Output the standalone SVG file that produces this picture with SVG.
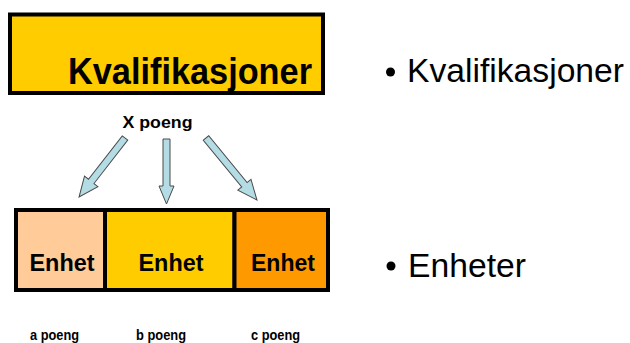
<svg xmlns="http://www.w3.org/2000/svg" width="630" height="343" viewBox="0 0 630 343">
  <style>
    .box { stroke: #000; stroke-width: 4; }
    .bold { font-family: "Liberation Sans", Arial, sans-serif; font-weight: bold; fill: #000; }
    .reg { font-family: "Liberation Sans", Arial, sans-serif; fill: #000; }
    .arrow { fill: #B4DCE4; stroke: #4a4a4a; stroke-width: 1; stroke-linejoin: miter; }
  </style>
  <rect width="630" height="343" fill="#fff"/>

  <g id="kvalifikasjoner">
    <rect class="box" x="10" y="14.5" width="313" height="78.5" fill="#FFCC00"/>
    <text class="bold" x="312" y="84" font-size="36" text-anchor="end" textLength="244" lengthAdjust="spacingAndGlyphs">Kvalifikasjoner</text>
  </g>

  <g id="xpoeng">
    <text class="bold" x="157.5" y="128" font-size="17" text-anchor="middle" textLength="70" lengthAdjust="spacingAndGlyphs">X poeng</text>
  </g>

  <g id="connectors">
    <polygon class="arrow" transform="translate(125,138) rotate(37.9)" points="-3.5,0 3.5,0 3.5,55 8.5,55 0,74.8 -8.5,55 -3.5,55"/>
    <polygon class="arrow" transform="translate(166.5,139) rotate(0)" points="-3.5,0 3.5,0 3.5,47 7.5,47 0,65 -7.5,47 -3.5,47"/>
    <polygon class="arrow" transform="translate(206,138) rotate(-39.4)" points="-3.5,0 3.5,0 3.5,60.5 8.5,60.5 0,80.3 -8.5,60.5 -3.5,60.5"/>
  </g>

  <g id="enhet-a">
    <rect class="box" x="16" y="210" width="89" height="80" fill="#FFCC99"/>
    <text class="bold" x="62" y="271" font-size="24" text-anchor="middle" textLength="65" lengthAdjust="spacingAndGlyphs">Enhet</text>
    <text class="bold" x="54.5" y="340" font-size="14" text-anchor="middle" textLength="49" lengthAdjust="spacingAndGlyphs">a poeng</text>
  </g>
  <g id="enhet-b">
    <rect class="box" x="105" y="210" width="129.5" height="80" fill="#FFCC00"/>
    <text class="bold" x="171" y="271" font-size="24" text-anchor="middle" textLength="65" lengthAdjust="spacingAndGlyphs">Enhet</text>
    <text class="bold" x="161" y="340" font-size="14" text-anchor="middle" textLength="50" lengthAdjust="spacingAndGlyphs">b poeng</text>
  </g>
  <g id="enhet-c">
    <rect class="box" x="234.5" y="210" width="93.5" height="80" fill="#FF9900"/>
    <text class="bold" x="283" y="271" font-size="24" text-anchor="middle" textLength="64" lengthAdjust="spacingAndGlyphs">Enhet</text>
    <text class="bold" x="275.5" y="340" font-size="14" text-anchor="middle" textLength="49" lengthAdjust="spacingAndGlyphs">c poeng</text>
  </g>

  <g id="bullets">
    <circle cx="390.5" cy="72" r="4.5" fill="#000"/>
    <text class="reg" x="407" y="82" font-size="33.6" textLength="217" lengthAdjust="spacingAndGlyphs">Kvalifikasjoner</text>
    <circle cx="391" cy="266" r="4.5" fill="#000"/>
    <text class="reg" x="408" y="277" font-size="33.6" textLength="118" lengthAdjust="spacingAndGlyphs">Enheter</text>
  </g>
</svg>
